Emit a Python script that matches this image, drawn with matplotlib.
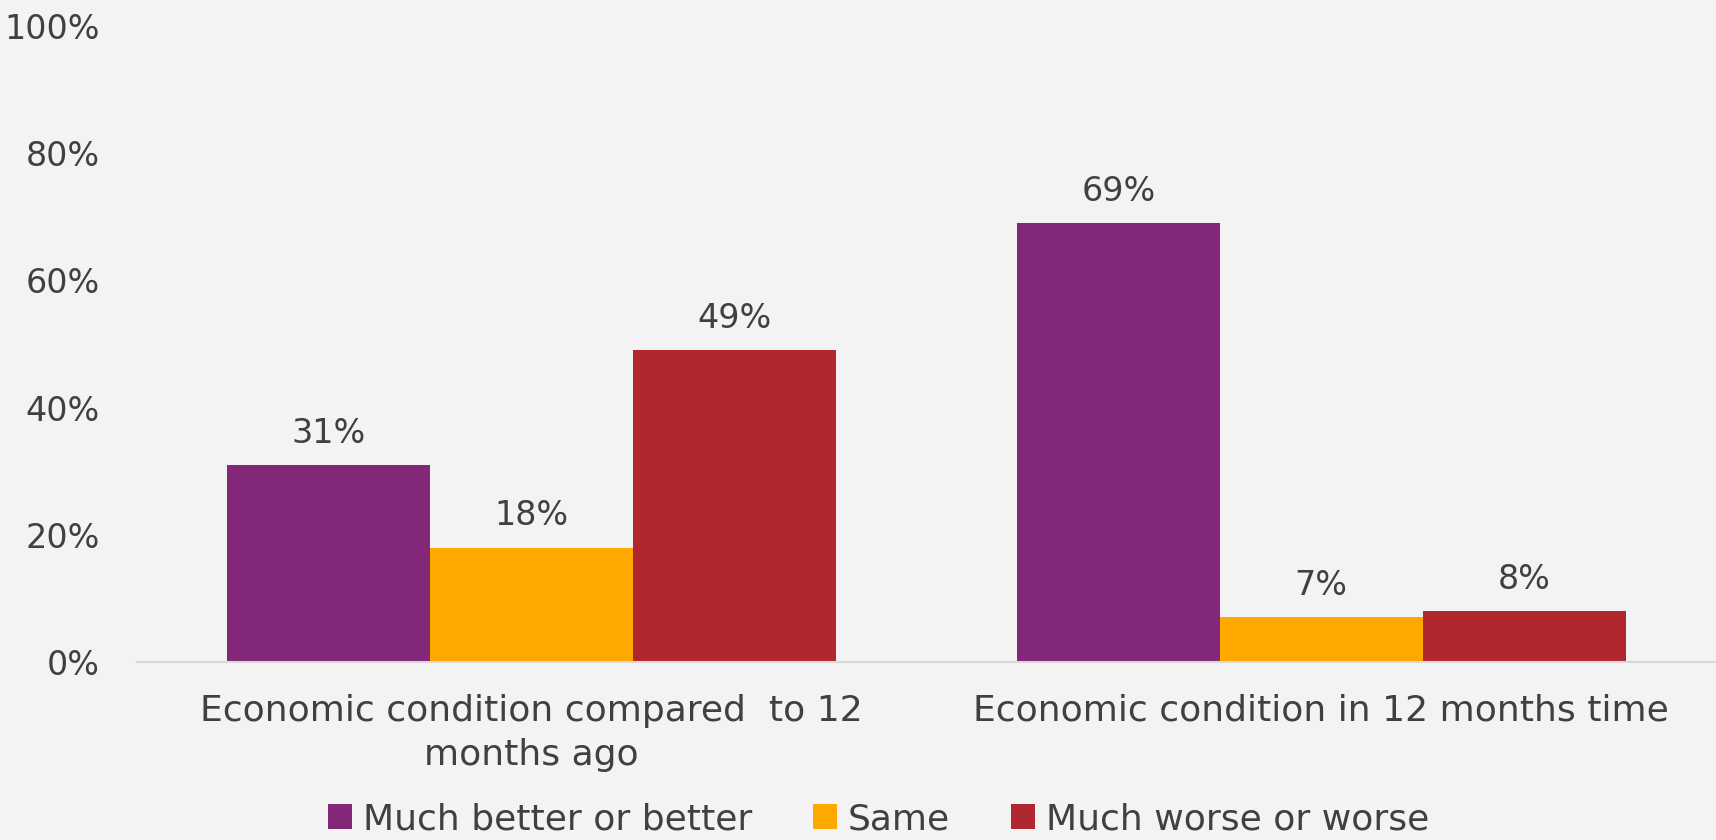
import matplotlib
matplotlib.use('Agg')
import matplotlib.pyplot as plt
import numpy as np

categories = ['Economic condition compared  to 12\nmonths ago',
              'Economic condition in 12 months time']
series = ['Much better or better', 'Same', 'Much worse or worse']
values = [
    [31, 69],   # Much better or better
    [18, 7],    # Same
    [49, 8],    # Much worse or worse
]
yticks = [0, 20, 40, 60, 80, 100]

colors = ['#832878', '#FFA800', '#B1272E']
text_color = '#404040'
bg = '#F3F3F3'
fs = 24
fs_big = 26

plt.rcParams['font.family'] = ['DejaVu Sans']

fig = plt.figure(figsize=(17.16, 8.4), dpi=100, facecolor=bg)
ax = fig.add_axes([0.0798, 0.2119, 0.9202, 0.757], facecolor=bg)

x = np.arange(len(categories))
width = 0.257
for i, (name, vals) in enumerate(zip(series, values)):
    pos = x + (i - 1) * width
    ax.bar(pos, vals, width, color=colors[i], label=name, linewidth=0)
    for px, v in zip(pos, vals):
        ax.text(px, v + 2.4, f'{v}%', ha='center', va='bottom',
                fontsize=fs, color=text_color)

ax.set_xlim(-0.5, 1.5)
ax.set_ylim(0, 100)
ax.set_yticks(yticks)
ax.set_yticklabels([f'{t}%' for t in yticks], fontsize=fs, color=text_color)
ax.set_xticks(x)
ax.set_xticklabels(categories, fontsize=fs_big, color=text_color, linespacing=1.38)
ax.tick_params(axis='both', length=0)
ax.tick_params(axis='y', pad=27)
ax.tick_params(axis='x', pad=23)

for side in ['top', 'right', 'left']:
    ax.spines[side].set_visible(False)
ax.spines['bottom'].set_color('#D9D9D9')
ax.spines['bottom'].set_linewidth(1.5)

leg = fig.legend(loc='lower center', bbox_to_anchor=(0.512, -0.034), ncol=3,
                 frameon=False, fontsize=fs_big, handlelength=0.65, handleheight=0.7,
                 handletextpad=0.3, columnspacing=1.7)
for t in leg.get_texts():
    t.set_color(text_color)

plt.savefig('out.png', dpi=100, facecolor=bg)
